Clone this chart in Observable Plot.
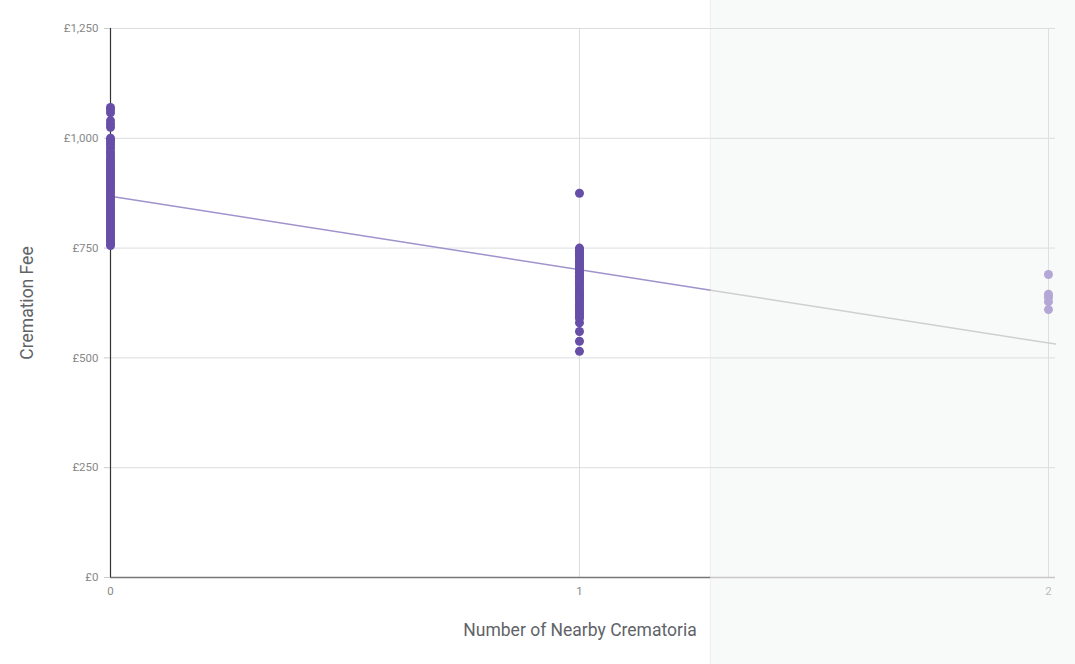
<!DOCTYPE html>
<html>
<head>
<meta charset="utf-8">
<script src="https://cdn.jsdelivr.net/npm/d3@7"></script>
<script src="https://cdn.jsdelivr.net/npm/@observablehq/plot@0.6"></script>
<style>
  html, body { margin: 0; padding: 0; background: #fff; overflow: hidden; }
  #chart { width: 1075px; height: 664px; }
</style>
</head>
<body>
<div id="chart"></div>
<script>
// Number of nearby crematoria (x) and cremation fee in £ (y)
const feesZero = [1070, 1065, 1058, 1040, 1032, 1025, 1000, 996, 990, 985, 978, 970, 965, 958, 952, 946, 940, 935, 930, 925, 920, 915, 910, 905, 900, 896, 890, 885, 880, 876, 870, 865, 860, 856, 850, 845, 840, 835, 830, 825, 820, 815, 810, 805, 800, 796, 790, 785, 780, 776, 770, 765, 760, 756];
const feesOne = [875, 750, 746, 742, 738, 734, 730, 725, 720, 716, 712, 708, 704, 700, 695, 690, 686, 682, 678, 674, 670, 665, 660, 655, 650, 646, 642, 638, 634, 630, 625, 620, 615, 610, 605, 600, 595, 590, 580, 560, 538, 515];
const feesTwo = [690, 645, 638, 628, 610];
const xTicks = [0, 1, 2];
const yTicks = [0, 250, 500, 750, 1000, 1250];
// trend line: fee = intercept + slope * x
const trendIntercept = 868;
const trendSlope = -167;
const xMax = 2.015;
const shadeStart = 1.28; // start of the shaded (extrapolated) zone

const points = [
  ...feesZero.map(y => ({x: 0, y})),
  ...feesOne.map(y => ({x: 1, y})),
  ...feesTwo.map(y => ({x: 2, y}))
];
const trend = [0, shadeStart, xMax].map(x => ({x, y: trendIntercept + trendSlope * x}));
const shade = [{x1: shadeStart, x2: 2.2, y1: -260, y2: 1400}];

const fmt = d => "£" + d3.format(",")(d);
const xfmt = d3.format("d");

const chart = Plot.plot({
  width: 1075,
  height: 664,
  marginLeft: 110,
  marginRight: 20,
  marginTop: 28,
  marginBottom: 87,
  style: {fontFamily: "Roboto, sans-serif", background: "transparent"},
  x: {domain: [0, xMax]},
  y: {domain: [0, 1250]},
  marks: [
    Plot.rect(shade, {x1: "x1", x2: "x2", y1: "y1", y2: "y2", fill: "#f8f9f9", stroke: "#eeeeee", strokeWidth: 1}),
    Plot.ruleY(yTicks.filter(d => d > 0), {stroke: "#dcdde0", strokeWidth: 1}),
    Plot.ruleX(xTicks.filter(d => d > 0), {stroke: "#dcdde0", strokeWidth: 1}),
    Plot.axisY({ticks: yTicks, tickFormat: fmt, tickSize: 6, tickPadding: 6, stroke: "#cccccc", fill: "#888888", fontSize: 11.5, label: null}),
    Plot.axisX({ticks: [0, 1], tickFormat: xfmt, tickSize: 0, tickPadding: 9, fill: "#888888", fontSize: 11.5, label: null}),
    Plot.axisX({ticks: [2], tickFormat: xfmt, tickSize: 0, tickPadding: 9, fill: "#bbbbbb", fontSize: 11.5, label: null}),
    Plot.ruleY([0], {x1: 0, x2: shadeStart, stroke: "#777777", strokeWidth: 1.5}),
    Plot.ruleY([0], {x1: shadeStart, x2: xMax, stroke: "#c8c8c8", strokeWidth: 1.5}),
    Plot.ruleX([0], {stroke: "#333333", strokeWidth: 1.2}),
    Plot.line(trend.slice(0, 2), {x: "x", y: "y", stroke: "#a092cc", strokeWidth: 1.5}),
    Plot.line(trend.slice(1), {x: "x", y: "y", stroke: "#cfcfcf", strokeWidth: 1.5}),
    Plot.dot(points.filter(d => d.x < shadeStart), {x: "x", y: "y", r: 4.5, fill: "#674ea7", stroke: "none"}),
    Plot.dot(points.filter(d => d.x >= shadeStart), {x: "x", y: "y", r: 4.5, fill: "#b4a7d6", stroke: "none"}),
    Plot.text(["Number of Nearby Crematoria"], {text: d => d, frameAnchor: "bottom", dx: -3, dy: 53, textAnchor: "middle", lineAnchor: "middle", fontSize: 17.5, fill: "#5f6368"}),
    Plot.text(["Cremation Fee"], {text: d => d, frameAnchor: "left", dx: -83, rotate: -90, textAnchor: "middle", lineAnchor: "middle", fontSize: 17.5, fill: "#5f6368"})
  ]
});
document.getElementById("chart").appendChild(chart);
</script>
</body>
</html>
